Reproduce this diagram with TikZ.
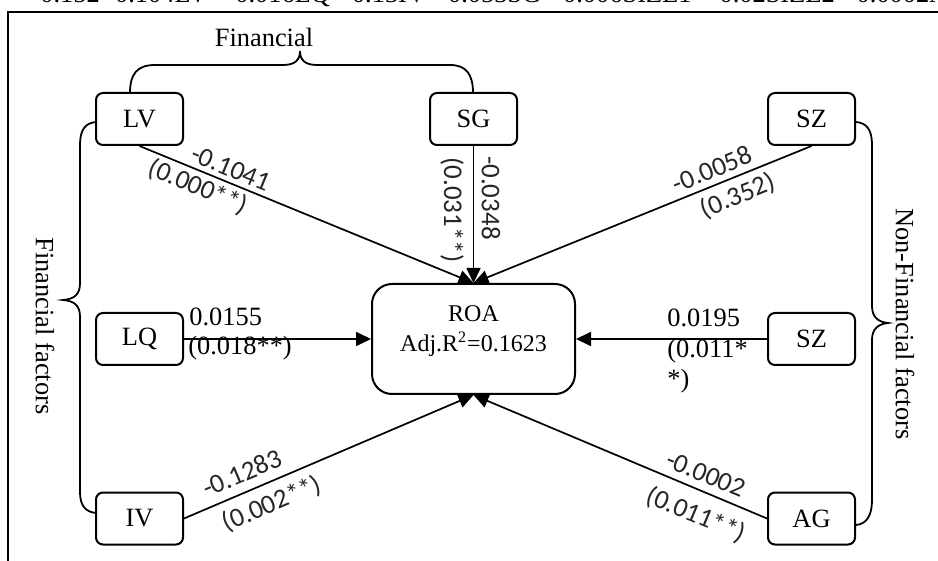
\documentclass[tikz,border=0pt]{standalone}
\usepackage{fontspec}
\setmainfont{Liberation Serif}
\newfontfamily\lblfont{Carlito}
\usetikzlibrary{arrows.meta}

\begin{document}
\begin{tikzpicture}[
  x=0.5pt, y=-0.5pt,
  var/.style={rectangle, rounded corners=3.5pt, draw, line width=1pt,
    minimum width=43.5pt, minimum height=26pt, inner sep=0pt,
    font=\fontsize{13.2}{15}\selectfont},
  roabox/.style={rectangle, rounded corners=10pt, draw, line width=1pt,
    minimum width=101.5pt, minimum height=55pt},
  link/.style={-{Triangle[length=7.5pt,width=7pt]}, line width=0.85pt},
  coef/.style={font=\lblfont\fontsize{13.5}{15}\selectfont, text=black!85,
    inner sep=0pt},
  serif/.style={font=\fontsize{13.2}{15}\selectfont, inner sep=0pt},
  brace/.style={line width=0.9pt},
]
\useasboundingbox (0,0) rectangle (938,561);
\clip (0,0) rectangle (938,561);

% Equation line cut by the top edge, and frame
\node[serif, anchor=base west] (eqn) at (40,3)
  {0.152 -0.104LV + 0.016LQ - 0.13IV - 0.053SG - 0.006SIZE1 + 0.02SIZE2 - 0.0002AG};
\draw[line width=1.1pt] (8,561) -- (8,12) -- (938,12);

% Variables
\node[var] (lv) at (139.5,119) {LV};
\node[var] (sg) at (473.5,119) {SG};
\node[var] (sz1) at (811.5,119) {SZ};
\node[var] (lq) at (139.5,339) {LQ};
\node[var] (sz2) at (811.5,339) {SZ};
\node[var] (iv) at (139.5,518.5) {IV};
\node[var] (ag) at (811.5,518.5) {AG};

% Dependent variable
\node[roabox] (roa) at (473.5,339) {};
\node[serif, align=center, font=\fontsize{12}{15}\selectfont] (roatxt) at (473.5,331)
  {ROA\\Adj.R\textsuperscript{2}=0.1623};

% Paths
\draw[link] (lv.south) -- (roa.north);
\draw[link] (sg.south) -- (roa.north);
\draw[link] (sz1.south) -- (roa.north);
\draw[link] (lq) -- (roa);
\draw[link] (sz2) -- (roa);
\draw[link] (iv.east) -- (roa.south);
\draw[link] (ag.west) -- (roa.south);

% Coefficients (p-values)
\node[coef, rotate=-22.5] (c-lv) at (231,168) {-0.1041};
\node[coef, rotate=-22.5] (p-lv) at (198,187) {(0.000**)};
\node[coef, rotate=-90] (c-sg) at (491,198) {-0.0348};
\node[coef, rotate=-90] (p-sg) at (452,210) {(0.031**)};
\node[coef, rotate=22.2] (c-sz1) at (712,169) {-0.0058};
\node[coef, rotate=22.2] (p-sz1) at (738,196) {(0.352)};
\node[serif, anchor=west] (c-lq) at (189,317) {0.0155};
\node[serif, anchor=west] (p-lq) at (188,348) {(0.018**)};
\node[serif, anchor=west] (c-sz2) at (667,318) {0.0195};
\node[serif, anchor=north west, align=left] (p-sz2) at (667,339) {(0.011*\\*)};
\node[coef, rotate=23] (c-iv) at (242,473) {-0.1283};
\node[coef, rotate=23] (p-iv) at (272,504) {(0.002**)};
\node[coef, rotate=-22.5] (c-ag) at (706,474) {-0.0002};
\node[coef, rotate=-22.5] (p-ag) at (696,515) {(0.011**)};

% Groups
\draw[brace] (130,93) .. controls (130,74) and (137,65) .. (155,65) -- (283,65)
  .. controls (295,65) and (300,60) .. (300,51)
  .. controls (300,60) and (305,65) .. (317,65) -- (450,65)
  .. controls (466,65) and (473,74) .. (473,93);
\draw[brace] (96,122) .. controls (85,123) and (80,130) .. (80,145) -- (80,283)
  .. controls (80,295) and (74,299) .. (63,300)
  .. controls (74,301) and (80,305) .. (80,317) -- (80,492)
  .. controls (80,505) and (85,512) .. (96,513);
\draw[brace] (856,122) .. controls (867,123) and (872,130) .. (872,145) -- (872,306)
  .. controls (872,317) and (878,322) .. (888,323)
  .. controls (878,324) and (872,329) .. (872,340) -- (872,500)
  .. controls (872,515) and (867,524) .. (856,525);
\node[serif] (fin) at (264,37) {Financial};
\node[serif, rotate=-90] (finf) at (45,326) {Financial factors};
\node[serif, rotate=-90] (nonfin) at (905,324) {Non-Financial factors};

\end{tikzpicture}
\end{document}
